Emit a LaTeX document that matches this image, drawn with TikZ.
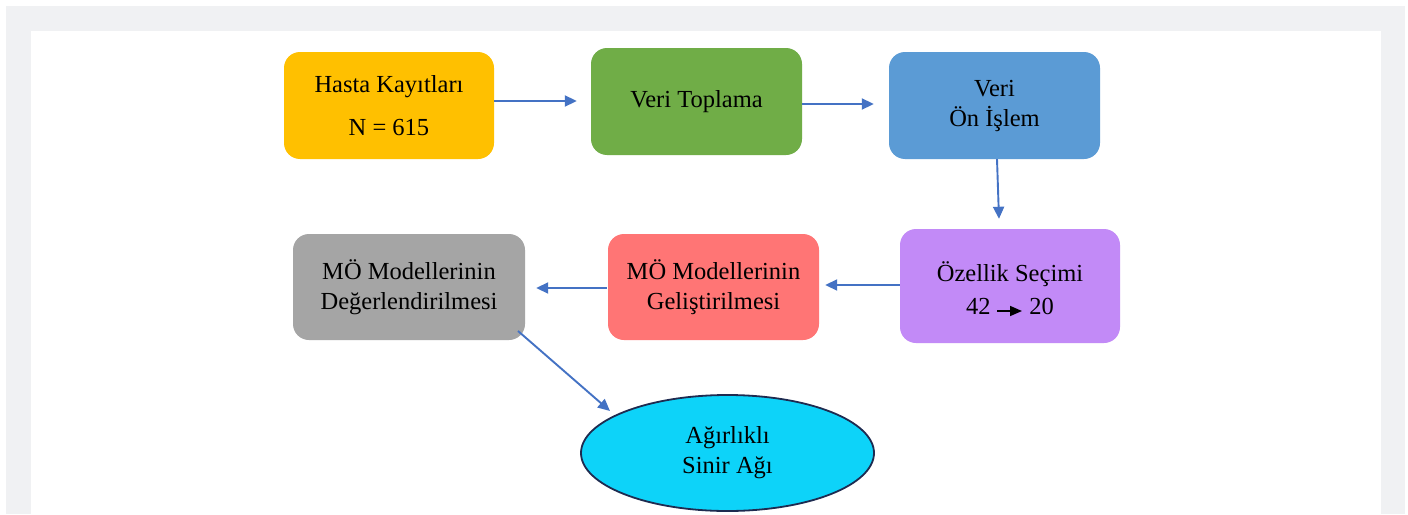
\documentclass[tikz,border=0pt]{standalone}
\usepackage{fontspec}
\setmainfont{Liberation Serif}
\usetikzlibrary{shapes.geometric,arrows.meta}
\definecolor{framegray}{HTML}{F0F1F3}
\definecolor{cOrange}{HTML}{FFC000}
\definecolor{cGreen}{HTML}{70AD47}
\definecolor{cBlue}{HTML}{5B9BD5}
\definecolor{cPurple}{HTML}{C28AF7}
\definecolor{cRed}{HTML}{FF7575}
\definecolor{cGray}{HTML}{A5A5A5}
\definecolor{cCyan}{HTML}{0DD3F9}
\definecolor{cNavy}{HTML}{1E2B50}
\definecolor{arrowblue}{HTML}{4472C4}
\begin{document}
\begin{tikzpicture}[x=1pt,y=-1pt,
  box/.style={rounded corners=16pt, inner sep=0pt, align=center,
    font=\fontsize{24.5}{30}\selectfont, text=black},
  arr/.style={draw=arrowblue, line width=1.9pt, -{Triangle[length=12pt,width=11pt]}},
  smallarr/.style={draw=black, line width=1.6pt, -{Triangle[length=12pt,width=10pt]}}]
\useasboundingbox (0,0) rectangle (1408,514);
\fill[white] (0,0) rectangle (1408,514);
\fill[framegray] (6,6) rectangle (1405,514);
\fill[white] (31,31) rectangle (1381,514);

\node[box, fill=cOrange, minimum width=210pt, minimum height=107pt] (hasta) at (389,105.5)
  {Hasta Kayıtları\\[13pt]N = 615};
\node[box, fill=cGreen, minimum width=211pt, minimum height=107pt] (toplama) at (696.5,101.5)
  {Veri Toplama};
\node[box, fill=cBlue, minimum width=211pt, minimum height=107pt] (onislem) at (994.5,105.5)
  {Veri\\Ön İşlem};
\node[box, fill=cPurple, minimum width=220pt, minimum height=114pt] (ozellik) at (1010,286)
  {\rule{0pt}{24pt}Özellik Seçimi\\[3pt]42\hspace{39pt}20};
\node[box, fill=cRed, minimum width=211pt, minimum height=106pt] (gel) at (713.5,287)
  {MÖ Modellerinin\\Geliştirilmesi};
\node[box, fill=cGray, minimum width=232pt, minimum height=106pt] (deg) at (409,287)
  {MÖ Modellerinin\\Değerlendirilmesi};
\node[ellipse, draw=cNavy, line width=1.8pt, fill=cCyan, inner sep=0pt,
  minimum width=293pt, minimum height=116pt, align=center,
  font=\fontsize{24.5}{30}\selectfont] (ell) at (727.5,453)
  {Ağırlıklı\\Sinir Ağı};

\coordinate (sa1) at ([shift={(-13,25)}]ozellik.center);
\coordinate (sa2) at ([shift={(12,25)}]ozellik.center);
\draw[smallarr] (sa1) -- (sa2);

\draw[arr] ([shift={(0,-4.5)}]hasta.east) -- ([shift={(-14,-0.5)}]toplama.west);
\draw[arr] ([shift={(0,2.5)}]toplama.east) -- ([shift={(-15,-1.5)}]onislem.west);
\draw[arr] ([shift={(2.5,0)}]onislem.south) -- ([shift={(-11,-10)}]ozellik.north);
\draw[arr] ([shift={(0,-1)}]ozellik.west) -- ([shift={(6,-2)}]gel.east);
\draw[arr] ([shift={(-1,1)}]gel.west) -- ([shift={(11,1)}]deg.east);
\draw[arr] ([shift={(109,44)}]deg.center) -- ([shift={(-117.5,-42)}]ell.center);
\end{tikzpicture}
\end{document}
